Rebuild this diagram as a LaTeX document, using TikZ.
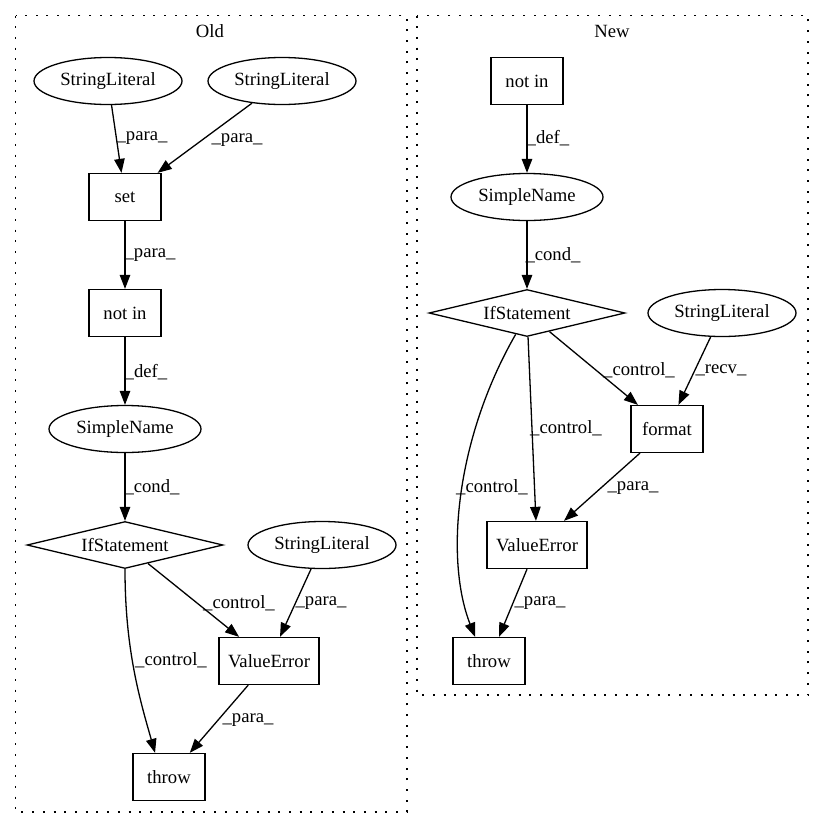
\documentclass[tikz,border=0pt]{standalone}
\usepackage{fontspec}
\setmainfont{Liberation Serif}
\usetikzlibrary{shapes.geometric,arrows.meta}
\begin{document}
\begin{tikzpicture}[x=1pt,y=-1pt,
  every node/.style={font=\fontsize{18.67}{22}\selectfont, inner sep=0pt},
  boxn/.style={draw, line width=1.3pt, rectangle, minimum width=72pt, minimum height=47pt},
  elln/.style={draw, line width=1.3pt, ellipse, minimum width=148pt, minimum height=47pt},
  diam/.style={draw, line width=1.3pt, diamond, aspect=4, minimum width=196pt, minimum height=47pt},
  conn/.style={line width=1.3pt, -{Triangle[length=14pt,width=10.5pt]}},
  lbl/.style={},
  clus/.style={line width=1.3pt, dash pattern=on 2pt off 8.7pt}
]
\useasboundingbox (0,0) rectangle (824,828);

% clusters
\draw[clus] (15.5,15.5) rectangle (407,812);
\draw[clus] (417,15.5) rectangle (808,695);
\node (oldlbl) at (210,31) {Old};
\node (newlbl) at (612,31) {New};

% Old nodes
\node[elln] (osl1) at (108,81) {StringLiteral};
\node[elln] (osl2) at (282,81) {StringLiteral};
\node[boxn] (oset) at (125,197) {set};
\node[boxn] (onotin) at (125,313) {not in};
\node[elln, minimum width=152pt] (osn) at (125,429) {SimpleName};
\node[diam] (oif) at (125,545) {IfStatement};
\node[elln] (osl3) at (322,545) {StringLiteral};
\node[boxn, minimum width=100pt] (ove) at (269,661) {ValueError};
\node[boxn] (othrow) at (169,777) {throw};

% New nodes
\node[boxn] (nnotin) at (527,81) {not in};
\node[elln, minimum width=152pt] (nsn) at (527,197) {SimpleName};
\node[diam] (nif) at (527,313) {IfStatement};
\node[elln] (nsl) at (722,313) {StringLiteral};
\node[boxn] (nformat) at (667,429) {format};
\node[boxn, minimum width=100pt] (nve) at (537,545) {ValueError};
\node[boxn] (nthrow) at (489,661) {throw};

% Old edges
\draw[conn] (osl1) -- (oset);
\draw[conn] (osl2) -- (oset);
\draw[conn] (oset) -- (onotin);
\draw[conn] (onotin) -- (osn);
\draw[conn] (osn) -- (oif);
\draw[conn] (oif) -- (ove);
\draw[conn] (osl3) -- (ove);
\draw[conn] (ove) -- (othrow);
\draw[conn] (oif.south) .. controls (125,650) and (140,700) .. (othrow.120);

\node[lbl] (l1) at (142,138) {\_para\_};
\node[lbl] (l2) at (237,140) {\_para\_};
\node[lbl] (l3) at (150,255) {\_para\_};
\node[lbl] (l4) at (146,372) {\_def\_};
\node[lbl] (l5) at (152,487) {\_cond\_};
\node[lbl] (l6) at (239,603) {\_control\_};
\node[lbl] (l7) at (321,603) {\_para\_};
\node[lbl] (l8) at (171,660) {\_control\_};
\node[lbl] (l9) at (248,720) {\_para\_};

% New edges
\draw[conn] (nnotin) -- (nsn);
\draw[conn] (nsn) -- (nif);
\draw[conn] (nif) -- (nformat);
\draw[conn] (nsl) -- (nformat);
\draw[conn] (nif) -- (nve);
\draw[conn] (nformat) -- (nve);
\draw[conn] (nve) -- (nthrow);
\draw[conn] (nif.-118) .. controls (455,440) and (445,560) .. (nthrow.120);

\node[lbl] (m1) at (548,138) {\_def\_};
\node[lbl] (m2) at (553,255) {\_cond\_};
\node[lbl] (m3) at (639,370) {\_control\_};
\node[lbl] (m4) at (721,370) {\_recv\_};
\node[lbl] (m5) at (566,428) {\_control\_};
\node[lbl] (m6) at (492,487) {\_control\_};
\node[lbl] (m7) at (633,488) {\_para\_};
\node[lbl] (m8) at (540,603) {\_para\_};
\end{tikzpicture}
\end{document}
